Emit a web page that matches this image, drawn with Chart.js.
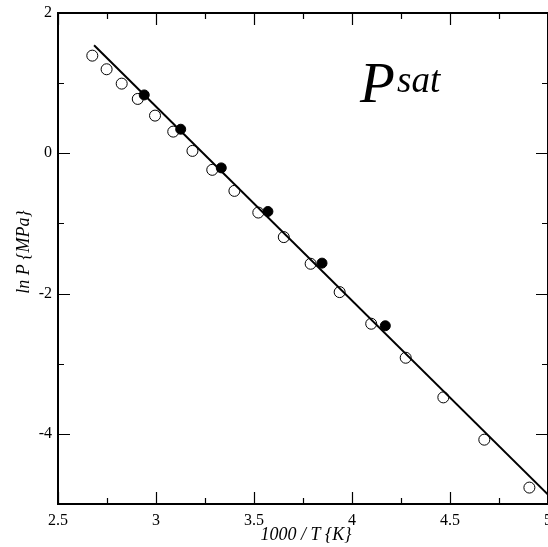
<!DOCTYPE html>
<html>
<head>
<meta charset="utf-8">
<script src="https://cdn.jsdelivr.net/npm/chart.js@4.4.1/dist/chart.umd.min.js"></script>
<style>
  html, body { margin: 0; padding: 0; background: #fff; }
  canvas { display: block; }
</style>
</head>
<body>
<canvas id="psatChart" width="548" height="547"></canvas>
<script>
// open circles
const openX = [2.675, 2.748, 2.825, 2.907, 2.995, 3.088, 3.186, 3.287, 3.400, 3.522, 3.652, 3.789, 3.937, 4.098, 4.274, 4.466, 4.675, 4.905];
const openY = [1.392, 1.198, 0.993, 0.775, 0.537, 0.309, 0.034, -0.236, -0.536, -0.845, -1.195, -1.575, -1.979, -2.430, -2.915, -3.480, -4.083, -4.766];
// filled circles
const filledX = [2.940, 3.126, 3.333, 3.571, 3.847, 4.170];
const filledY = [0.832, 0.343, -0.208, -0.830, -1.566, -2.459];
// straight fit line
const fitX = [2.684, 5.0];
const fitY = [1.540, -4.866];
// labelled ticks
const xLabels = [2.5, 3, 3.5, 4, 4.5, 5];
const yLabels = [2, 0, -2, -4];

const SERIF = '"Liberation Serif", "Times New Roman", serif';
Chart.defaults.font.family = SERIF;

const toPts = (xs, ys) => xs.map((x, i) => ({ x: x, y: ys[i] }));
const isLabel = (list, v) => list.some(l => Math.abs(l - v) < 1e-6);

const frame = {
  id: "frame",
  afterDatasetsDraw(chart) {
    const { ctx, chartArea: a, scales: { x, y } } = chart;
    ctx.save();
    ctx.strokeStyle = "#000";
    ctx.lineWidth = 1.2;
    ctx.beginPath();
    x.ticks.forEach(t => {
      const px = Math.round(x.getPixelForValue(t.value)) + 0.5;
      const len = isLabel(xLabels, t.value) ? 12 : 6;
      ctx.moveTo(px, a.bottom); ctx.lineTo(px, a.bottom - len);
      ctx.moveTo(px, a.top); ctx.lineTo(px, a.top + len);
    });
    y.ticks.forEach(t => {
      const py = Math.round(y.getPixelForValue(t.value)) + 0.5;
      const len = isLabel(yLabels, t.value) ? 12 : 6;
      ctx.moveTo(a.left, py); ctx.lineTo(a.left + len, py);
      ctx.moveTo(a.right, py); ctx.lineTo(a.right - len, py);
    });
    ctx.stroke();
    ctx.lineWidth = 2;
    ctx.strokeRect(a.left, a.top, a.right - a.left, a.bottom - a.top);

    // texts
    ctx.fillStyle = "#000";
    ctx.textBaseline = "alphabetic";
    ctx.font = "italic 57px " + SERIF;
    ctx.textAlign = "left";
    ctx.fillText("P", 360, 102);
    ctx.font = "italic 37px " + SERIF;
    ctx.fillText("sat", 397, 92);

    ctx.font = "italic 18px " + SERIF;
    ctx.textAlign = "center";
    ctx.fillText("1000 / T {K}", 306, 540);
    ctx.translate(29, 252);
    ctx.rotate(-Math.PI / 2);
    ctx.fillText("ln P {MPa}", 0, 0);
    ctx.restore();
  }
};

new Chart(document.getElementById("psatChart"), {
  type: "scatter",
  data: {
    datasets: [
      {
        label: "fit",
        data: toPts(fitX, fitY),
        showLine: true,
        borderColor: "#000",
        borderWidth: 2,
        pointRadius: 0,
        order: 1
      },
      {
        label: "filled",
        data: toPts(filledX, filledY),
        backgroundColor: "#000",
        borderColor: "#000",
        borderWidth: 1,
        pointRadius: 5,
        order: 0
      },
      {
        label: "open",
        data: toPts(openX, openY),
        backgroundColor: "rgba(0,0,0,0)",
        borderColor: "#000",
        borderWidth: 1,
        pointRadius: 5.5,
        order: 2
      }
    ]
  },
  options: {
    responsive: false,
    animation: false,
    events: [],
    layout: { autoPadding: false, padding: { top: 13, left: 0, right: 0, bottom: 0 } },
    plugins: { legend: { display: false }, tooltip: { enabled: false } },
    scales: {
      x: {
        type: "linear",
        min: 2.5,
        max: 5,
        grid: { display: false, drawTicks: false },
        border: { display: false },
        ticks: {
          stepSize: 0.25,
          autoSkip: false,
          maxRotation: 0,
          padding: 7,
          color: "#000",
          font: { family: SERIF, size: 16 },
          callback: v => isLabel(xLabels, v) ? String(v) : ""
        },
        afterFit(s) { s.height = 43; s.paddingLeft = 0; s.paddingRight = 0; }
      },
      y: {
        type: "linear",
        min: -5,
        max: 2,
        grid: { display: false, drawTicks: false },
        border: { display: false },
        ticks: {
          stepSize: 1,
          autoSkip: false,
          padding: 6,
          color: "#000",
          font: { family: SERIF, size: 16 },
          callback: v => isLabel(yLabels, v) ? String(v) : ""
        },
        afterFit(s) { s.width = 58; s.paddingTop = 0; s.paddingBottom = 0; }
      }
    }
  },
  plugins: [frame]
});
</script>
</body>
</html>
